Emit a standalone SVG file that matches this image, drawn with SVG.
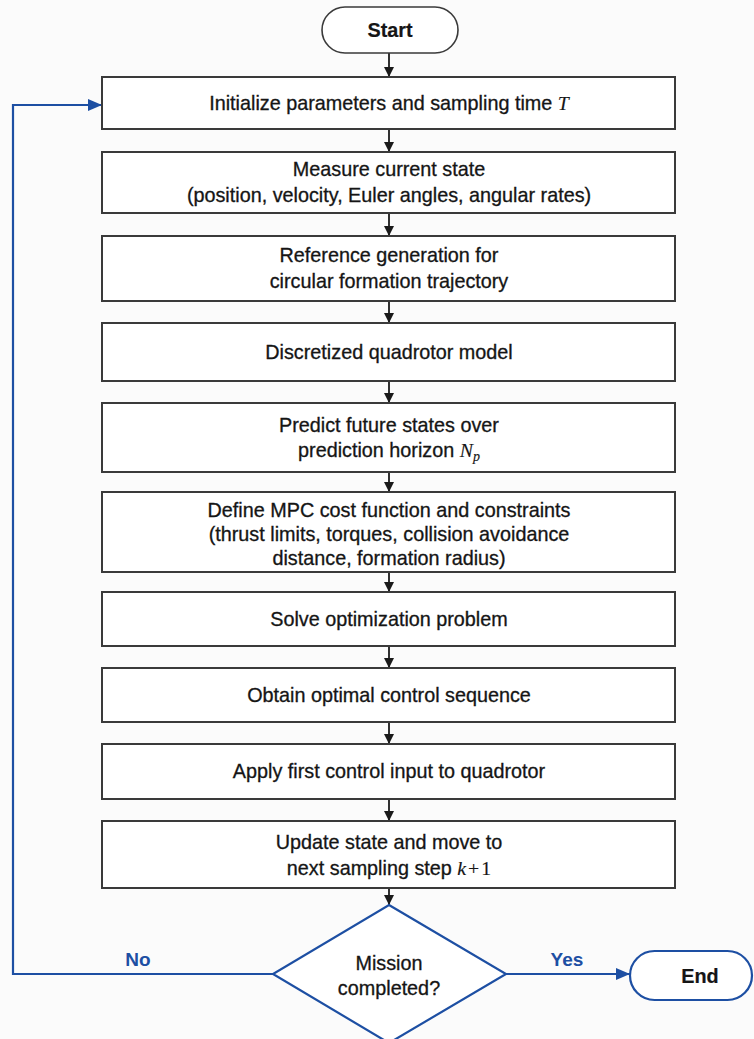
<svg xmlns="http://www.w3.org/2000/svg" width="754" height="1039" viewBox="0 0 754 1039">
  <defs>
    <style>
      .box { fill: #ffffff; stroke: #3a3a3a; stroke-width: 2; }
      .term { fill: #ffffff; stroke: #3a3a3a; stroke-width: 1.6; }
      .blue-shape { fill: #ffffff; stroke: #1d4fa3; stroke-width: 2.2; }
      .txt { font-family: "Liberation Sans", Arial, sans-serif; font-size: 19.8px; fill: #151515; stroke: #151515; stroke-width: 0.3; text-anchor: middle; }
      .bold { font-weight: bold; stroke-width: 0.2; }
      .lbl { font-family: "Liberation Sans", Arial, sans-serif; font-size: 19px; font-weight: bold; fill: #1d4fa3; text-anchor: middle; }
      .math { font-family: "Liberation Serif", "Times New Roman", serif; font-style: italic; stroke-width: 0.15; }
      .mathup { font-family: "Liberation Serif", "Times New Roman", serif; font-style: normal; stroke-width: 0.15; }
      .flow { fill: none; stroke: #1a1a1a; stroke-width: 1.8; }
      .loop { fill: none; stroke: #1d4fa3; stroke-width: 2.2; }
    </style>
    <marker id="arrowBlack" markerWidth="10" markerHeight="12" refX="10" refY="6" orient="auto" markerUnits="userSpaceOnUse">
      <path d="M0,1 L10,6 L0,11 Z" fill="#1a1a1a"/>
    </marker>
    <marker id="arrowBlue" markerWidth="14" markerHeight="14" refX="14" refY="7" orient="auto" markerUnits="userSpaceOnUse">
      <path d="M0,1 L14,7 L0,13 Z" fill="#1d4fa3"/>
    </marker>
  </defs>

  <rect x="0" y="0" width="754" height="1039" fill="#fbfbfb"/>

  <!-- connectors -->
  <g id="connectors">
    <line class="flow" x1="389" y1="53" x2="389" y2="77" marker-end="url(#arrowBlack)"/>
    <line class="flow" x1="389" y1="129" x2="389" y2="152" marker-end="url(#arrowBlack)"/>
    <line class="flow" x1="389" y1="213" x2="389" y2="236" marker-end="url(#arrowBlack)"/>
    <line class="flow" x1="389" y1="301" x2="389" y2="323" marker-end="url(#arrowBlack)"/>
    <line class="flow" x1="389" y1="381" x2="389" y2="403" marker-end="url(#arrowBlack)"/>
    <line class="flow" x1="389" y1="472" x2="389" y2="492" marker-end="url(#arrowBlack)"/>
    <line class="flow" x1="389" y1="572" x2="389" y2="592" marker-end="url(#arrowBlack)"/>
    <line class="flow" x1="389" y1="646" x2="389" y2="668" marker-end="url(#arrowBlack)"/>
    <line class="flow" x1="389" y1="722" x2="389" y2="744" marker-end="url(#arrowBlack)"/>
    <line class="flow" x1="389" y1="799" x2="389" y2="821" marker-end="url(#arrowBlack)"/>
    <line class="flow" x1="389" y1="888" x2="389" y2="905" marker-end="url(#arrowBlack)"/>
    <!-- loop back when the mission is not completed -->
    <path class="loop" d="M273,974 H13 V105 H102" marker-end="url(#arrowBlue)"/>
    <!-- exit when the mission is completed -->
    <line class="loop" x1="506" y1="974" x2="630" y2="974" marker-end="url(#arrowBlue)"/>
    <text class="lbl" x="138" y="966">No</text>
    <text class="lbl" x="567" y="966">Yes</text>
  </g>

  <g id="start">
    <rect class="term" x="322" y="7" width="136" height="46" rx="23" ry="23"/>
    <text class="txt bold" x="390" y="37">Start</text>
  </g>

  <g id="init">
    <rect class="box" x="102" y="77" width="573" height="52"/>
    <text class="txt" x="389" y="110">Initialize parameters and sampling time <tspan class="math">T</tspan></text>
  </g>

  <g id="measure">
    <rect class="box" x="102" y="152" width="573" height="61"/>
    <text class="txt" x="389" y="176">Measure current state</text>
    <text class="txt" x="389" y="202">(position, velocity, Euler angles, angular rates)</text>
  </g>

  <g id="reference">
    <rect class="box" x="102" y="236" width="573" height="65"/>
    <text class="txt" x="389" y="262">Reference generation for</text>
    <text class="txt" x="389" y="288">circular formation trajectory</text>
  </g>

  <g id="model">
    <rect class="box" x="102" y="323" width="573" height="58"/>
    <text class="txt" x="389" y="359">Discretized quadrotor model</text>
  </g>

  <g id="predict">
    <rect class="box" x="102" y="403" width="573" height="69"/>
    <text class="txt" x="389" y="432">Predict future states over</text>
    <text class="txt" x="389" y="457">prediction horizon <tspan class="math">N</tspan><tspan class="math" font-size="14" dy="4">p</tspan></text>
  </g>

  <g id="cost">
    <rect class="box" x="102" y="492" width="573" height="80"/>
    <text class="txt" x="389" y="517">Define MPC cost function and constraints</text>
    <text class="txt" x="389" y="541">(thrust limits, torques, collision avoidance</text>
    <text class="txt" x="389" y="565">distance, formation radius)</text>
  </g>

  <g id="solve">
    <rect class="box" x="102" y="592" width="573" height="54"/>
    <text class="txt" x="389" y="626">Solve optimization problem</text>
  </g>

  <g id="obtain">
    <rect class="box" x="102" y="668" width="573" height="54"/>
    <text class="txt" x="389" y="702">Obtain optimal control sequence</text>
  </g>

  <g id="apply">
    <rect class="box" x="102" y="744" width="573" height="55"/>
    <text class="txt" x="389" y="778">Apply first control input to quadrotor</text>
  </g>

  <g id="update">
    <rect class="box" x="102" y="821" width="573" height="67"/>
    <text class="txt" x="389" y="849">Update state and move to</text>
    <text class="txt" x="389" y="875">next sampling step <tspan class="math">k</tspan><tspan class="mathup" dx="2">+</tspan><tspan class="mathup" dx="2">1</tspan></text>
  </g>

  <g id="decision">
    <polygon class="blue-shape" points="389,905 506,974 389,1043 273,974"/>
    <text class="txt" x="389" y="970">Mission</text>
    <text class="txt" x="389" y="995">completed?</text>
  </g>

  <g id="end">
    <rect class="blue-shape" x="630" y="951" width="122" height="49" rx="24.5" ry="24.5"/>
    <text class="txt bold" x="700" y="983">End</text>
  </g>
</svg>
